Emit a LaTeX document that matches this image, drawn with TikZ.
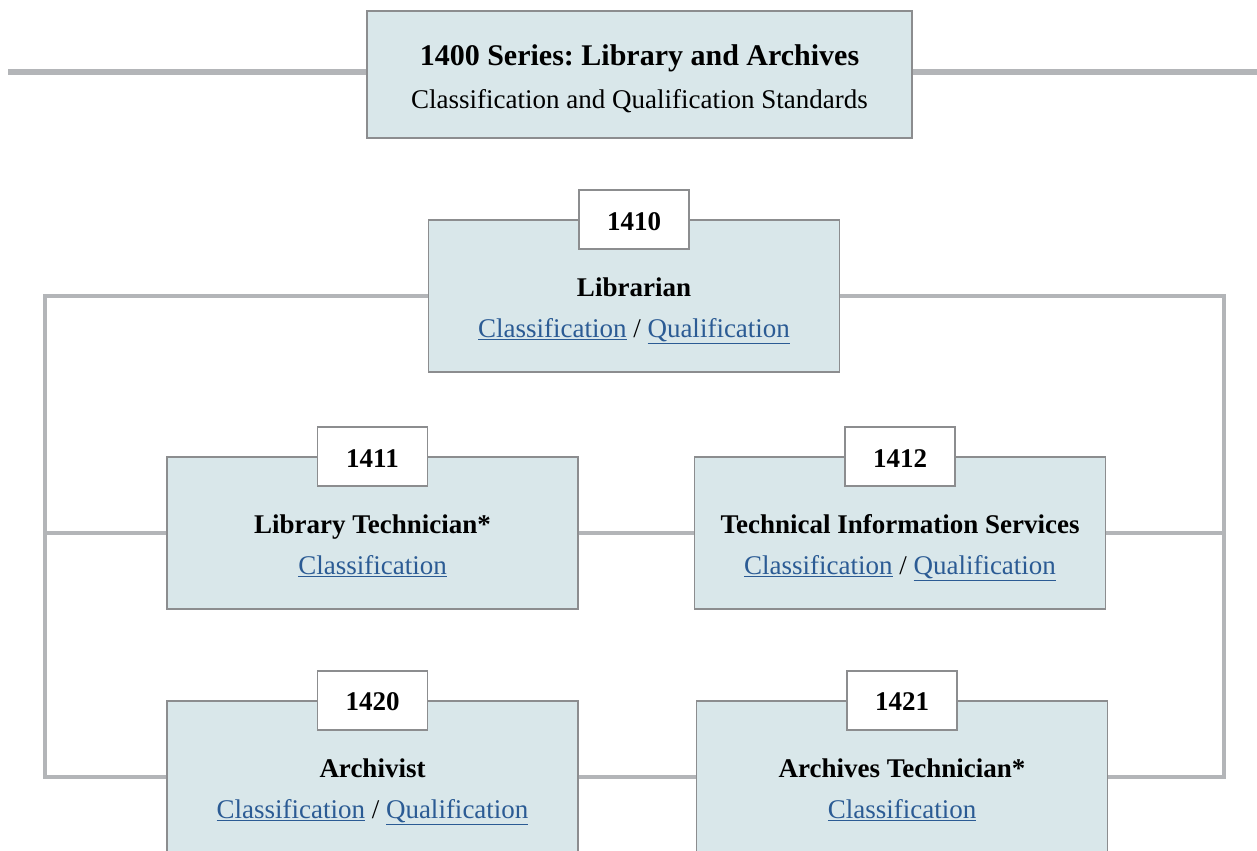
\documentclass[tikz,border=0pt]{standalone}
\usepackage{fontspec}
\setmainfont{Liberation Serif}
\usetikzlibrary{positioning}
\definecolor{boxfill}{HTML}{D9E7EA}
\definecolor{boxline}{HTML}{8C8D8F}
\definecolor{conn}{HTML}{B3B5B8}
\definecolor{linkc}{HTML}{2B5B94}
\newcommand{\lnk}[1]{\textcolor{linkc}{\underline{#1}}}
\frenchspacing
\pgfdeclarelayer{background}
\pgfsetlayers{background,main}
\tikzset{
  jobbox/.style={draw=boxline, fill=boxfill, line width=1.1pt, minimum width=308.25pt, minimum height=114pt, inner sep=0pt},
  tabbox/.style={draw=boxline, fill=white, line width=1.1pt, minimum width=82.5pt, minimum height=44.25pt, inner sep=0pt, font=\fontsize{20.25}{24}\selectfont\bfseries},
  headbox/.style={draw=boxline, fill=boxfill, line width=1.1pt, minimum width=408.75pt, minimum height=95.25pt, inner sep=0pt},
  ttl/.style={anchor=base, inner sep=0pt, font=\fontsize{20.25}{24}\selectfont\bfseries},
  lnktxt/.style={anchor=base, inner sep=0pt, font=\fontsize{20.25}{24}\selectfont},
  tabnum/.style={inner sep=0pt, font=\fontsize{20.25}{24}\selectfont\bfseries},
  connector/.style={draw=conn, line width=2.4pt},
  headbar/.style={draw=conn, line width=5pt}
}
\begin{document}
\begin{tikzpicture}[x=0.75pt,y=-0.75pt]
\clip (0,0) rectangle (1257,850);
% header
\node[headbox] (head) at (639.5,74.5) {};
\node[anchor=base, inner sep=0pt, font=\fontsize{22.5}{27}\selectfont\bfseries] (headt) at (639.5,65) {1400 Series: Library and Archives};
\node[lnktxt] (heads) at (639.5,108.5) {Classification and Qualification Standards};
\coordinate (barL) at (8,72);
\coordinate (barR) at (1257,72);
% boxes
\node[jobbox] (b1410) at (634,296) {};
\node[tabbox] (t1410) at (b1410.north) {};
\node[tabnum] (x1410) at (634,222) {1410};
\node[ttl] (n1410) at (634,296) {Librarian};
\node[lnktxt] (l1410) at (634,337) {\lnk{Classification} / \lnk{Qualification}};

\node[jobbox] (b1411) at (372.5,533) {};
\node[tabbox] (t1411) at (b1411.north) {};
\node[tabnum] (x1411) at (372.5,459) {1411};
\node[ttl] (n1411) at (372.5,533) {Library Technician*};
\node[lnktxt] (l1411) at (372.5,574) {\lnk{Classification}};

\node[jobbox] (b1412) at (900,533) {};
\node[tabbox] (t1412) at (b1412.north) {};
\node[tabnum] (x1412) at (900,459) {1412};
\node[ttl] (n1412) at (900,533) {Technical Information Services};
\node[lnktxt] (l1412) at (900,574) {\lnk{Classification} / \lnk{Qualification}};

\node[jobbox] (b1420) at (372.5,777) {};
\node[tabbox] (t1420) at (b1420.north) {};
\node[tabnum] (x1420) at (372.5,702) {1420};
\node[ttl] (n1420) at (372.5,777) {Archivist};
\node[lnktxt] (l1420) at (372.5,818) {\lnk{Classification} / \lnk{Qualification}};

\node[jobbox] (b1421) at (902,777) {};
\node[tabbox] (t1421) at (b1421.north) {};
\node[tabnum] (x1421) at (902,702) {1421};
\node[ttl] (n1421) at (902,777) {Archives Technician*};
\node[lnktxt] (l1421) at (902,818) {\lnk{Classification}};

\coordinate (fl) at (45,0);
\coordinate (fr) at (1224,0);
\begin{pgfonlayer}{background}
\fill[white] (0,0) rectangle (1257,850);
\draw[headbar] (barL) -- (barL -| head.west);
\draw[headbar] (barR -| head.east) -- (barR);
\draw[connector] (b1410.west) -| (fl |- b1420.west) -- (b1420.west);
\draw[connector] (fl |- b1411.west) -- (b1411.west);
\draw[connector] (b1410.east) -| (fr |- b1421.east) -- (b1421.east);
\draw[connector] (fr |- b1412.east) -- (b1412.east);
\draw[connector] (b1411.east) -- (b1412.west);
\draw[connector] (b1420.east) -- (b1421.west);
\end{pgfonlayer}
\end{tikzpicture}
\end{document}
